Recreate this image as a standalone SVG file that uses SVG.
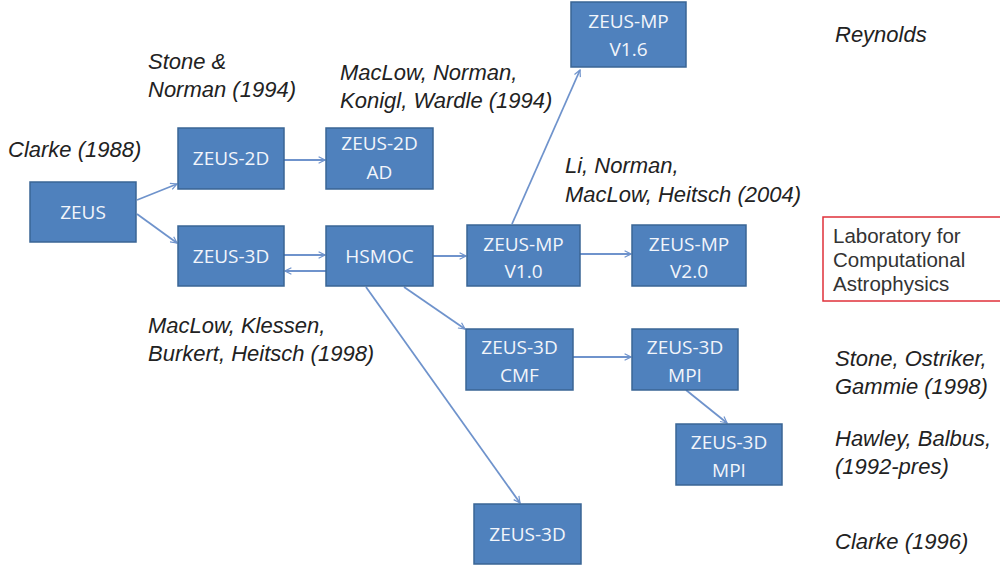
<svg xmlns="http://www.w3.org/2000/svg" width="1000" height="565" viewBox="0 0 1000 565">
<defs>
<marker id="arr" viewBox="0 0 10 10" refX="9" refY="5" markerWidth="8" markerHeight="8" orient="auto" markerUnits="userSpaceOnUse">
<path d="M1,1 L9,5 L1,9" fill="none" stroke="#6f93cc" stroke-width="1.5"/>
</marker>
</defs>
<style>
.box{fill:#4f81bd;stroke:#3a6595;stroke-width:1.5}
.bt{font-family:"Open Sans","Liberation Sans",sans-serif;font-size:19px;fill:#f2f5fb;text-anchor:middle}
.lab{font-family:"Liberation Sans",Arial,sans-serif;font-size:22px;font-style:italic;fill:#222}
.con{stroke:#6f93cc;stroke-width:1.8;fill:none;marker-end:url(#arr)}
.lab2{font-family:"Liberation Sans",Arial,sans-serif;font-size:20.5px;fill:#333}
</style>
<rect width="1000" height="565" fill="#fff"/>
<g id="connectors">
<line class="con" x1="137" y1="200" x2="177" y2="184"/>
<line class="con" x1="137" y1="214" x2="177" y2="243"/>
<line class="con" x1="284" y1="160" x2="325" y2="160"/>
<line class="con" x1="284" y1="255" x2="325" y2="255"/>
<line class="con" x1="326" y1="271" x2="285" y2="271"/>
<line class="con" x1="433" y1="256" x2="466" y2="256"/>
<line class="con" x1="512" y1="224" x2="580" y2="70"/>
<line class="con" x1="580" y1="254" x2="631" y2="254"/>
<line class="con" x1="404" y1="287" x2="465" y2="329"/>
<line class="con" x1="366" y1="287" x2="520" y2="503"/>
<line class="con" x1="573" y1="357" x2="631" y2="357"/>
<line class="con" x1="686" y1="390" x2="727" y2="423"/>
</g>
<g id="zeus"><rect class="box" x="30" y="182" width="106" height="60"/><text class="bt" x="83" y="219">ZEUS</text></g>
<g id="zeus2d"><rect class="box" x="178" y="128" width="106" height="61"/><text class="bt" x="231" y="165">ZEUS-2D</text></g>
<g id="zeus2dad"><rect class="box" x="326" y="128" width="107" height="61"/><text class="bt" x="379.5" y="150">ZEUS-2D</text><text class="bt" x="379.5" y="179">AD</text></g>
<g id="zeus3d"><rect class="box" x="178" y="226" width="106" height="60"/><text class="bt" x="231" y="263">ZEUS-3D</text></g>
<g id="hsmoc"><rect class="box" x="326" y="226" width="107" height="60"/><text class="bt" x="379.5" y="263">HSMOC</text></g>
<g id="mp16"><rect class="box" x="571" y="2" width="115" height="65"/><text class="bt" x="628.5" y="28">ZEUS-MP</text><text class="bt" x="628.5" y="56">V1.6</text></g>
<g id="mp10"><rect class="box" x="467" y="225" width="113" height="61"/><text class="bt" x="523.5" y="251">ZEUS-MP</text><text class="bt" x="523.5" y="278">V1.0</text></g>
<g id="mp20"><rect class="box" x="632" y="225" width="114" height="61"/><text class="bt" x="689" y="251">ZEUS-MP</text><text class="bt" x="689" y="278">V2.0</text></g>
<g id="cmf"><rect class="box" x="466" y="329" width="107" height="61"/><text class="bt" x="519.5" y="354">ZEUS-3D</text><text class="bt" x="519.5" y="382">CMF</text></g>
<g id="mpi1"><rect class="box" x="632" y="329" width="106" height="61"/><text class="bt" x="685" y="354">ZEUS-3D</text><text class="bt" x="685" y="382">MPI</text></g>
<g id="mpi2"><rect class="box" x="676" y="424" width="106" height="61"/><text class="bt" x="729" y="449">ZEUS-3D</text><text class="bt" x="729" y="477">MPI</text></g>
<g id="zeus3db"><rect class="box" x="474" y="504" width="107" height="60"/><text class="bt" x="527.5" y="541">ZEUS-3D</text></g>
<g id="lcabox"><rect x="823" y="217" width="180" height="84" fill="#fff" stroke="#e0303a" stroke-width="1.5"/>
<text class="lab2" x="833" y="243">Laboratory for</text><text class="lab2" x="833" y="267">Computational</text><text class="lab2" x="833" y="291">Astrophysics</text></g>
<g id="labels">
<text class="lab" x="8" y="157">Clarke (1988)</text>
<text class="lab" x="148" y="69">Stone &amp;</text>
<text class="lab" x="148" y="97">Norman (1994)</text>
<text class="lab" x="340" y="80">MacLow, Norman,</text>
<text class="lab" x="340" y="108">Konigl, Wardle (1994)</text>
<text class="lab" x="835" y="42">Reynolds</text>
<text class="lab" x="565" y="173">Li, Norman,</text>
<text class="lab" x="565" y="202">MacLow, Heitsch (2004)</text>
<text class="lab" x="148" y="333">MacLow, Klessen,</text>
<text class="lab" x="148" y="361">Burkert, Heitsch (1998)</text>
<text class="lab" x="835" y="366">Stone, Ostriker,</text>
<text class="lab" x="835" y="394">Gammie (1998)</text>
<text class="lab" x="835" y="446">Hawley, Balbus,</text>
<text class="lab" x="835" y="474">(1992-pres)</text>
<text class="lab" x="835" y="549">Clarke (1996)</text>
</g>
</svg>
